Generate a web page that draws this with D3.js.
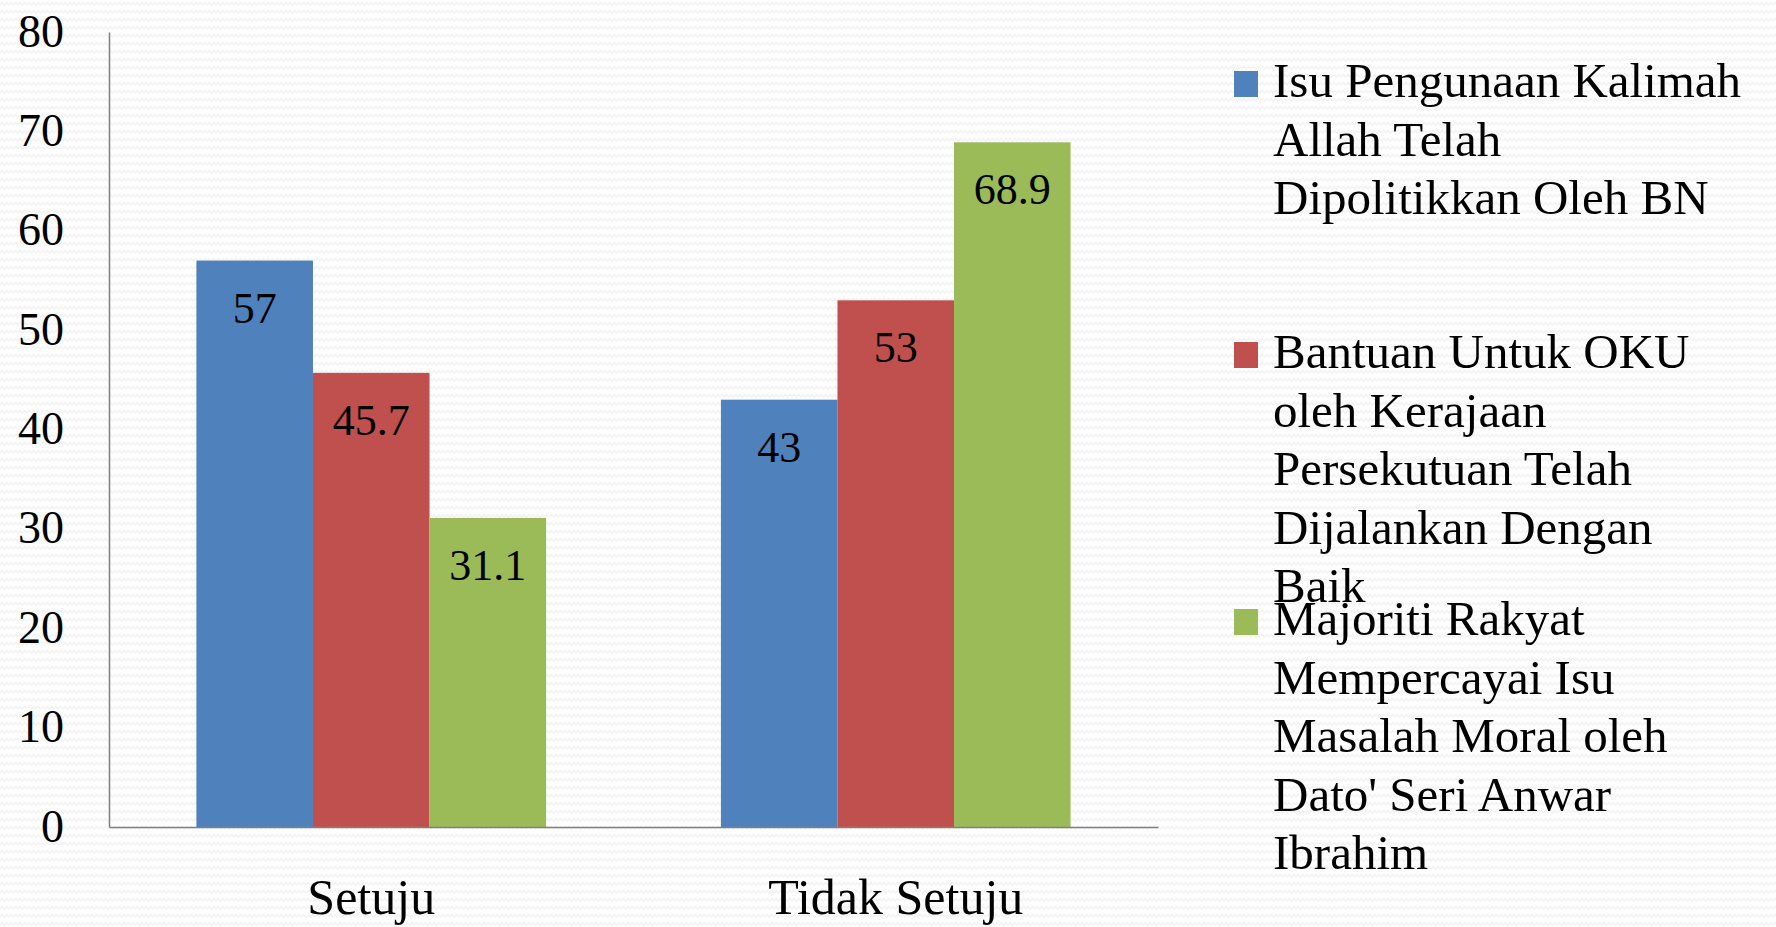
<!DOCTYPE html>
<html lang="ms">
<head>
  <meta charset="UTF-8">
  <title>Bar chart</title>
  <script src="https://d3js.org/d3.v7.min.js"></script>
  <style>
    html, body { margin: 0; padding: 0; background: #fdfdfd; }
    svg { display: block; font-family: "Liberation Serif", "DejaVu Serif", serif; }
  </style>
</head>
<body>
  <svg id="chart" width="1776" height="927"></svg>
  <script>
    // data
    const categories = ["Setuju", "Tidak Setuju"];
    const seriesNames = [
      ["Isu Pengunaan Kalimah", "Allah Telah", "Dipolitikkan Oleh BN"],
      ["Bantuan Untuk OKU", "oleh Kerajaan", "Persekutuan Telah", "Dijalankan Dengan", "Baik"],
      ["Majoriti Rakyat", "Mempercayai Isu", "Masalah Moral oleh", "Dato' Seri Anwar", "Ibrahim"]
    ];
    const isuKalimah = [57, 43];
    const bantuanOku = [45.7, 53];
    const majoritiRakyat = [31.1, 68.9];
    const yTicks = [0, 10, 20, 30, 40, 50, 60, 70, 80];
    const colors = ["#4f81bd", "#c0504d", "#9bbb59"];

    const series = [isuKalimah, bantuanOku, majoritiRakyat];

    const svg = d3.select("#chart");

    // faint zigzag background
    const defs = svg.append("defs");
    defs.append("pattern")
      .attr("id", "zig")
      .attr("width", 9)
      .attr("height", 8)
      .attr("patternUnits", "userSpaceOnUse")
      .call(p => {
        p.append("rect").attr("width", 9).attr("height", 8).attr("fill", "#fefefe");
        p.append("path")
          .attr("d", "M0,5 L2.25,2.5 L4.5,5 L6.75,2.5 L9,5")
          .attr("fill", "none")
          .attr("stroke", "#f2f2f2")
          .attr("stroke-width", 1.2);
      });
    svg.append("rect").attr("width", 1776).attr("height", 927).attr("fill", "url(#zig)");

    const plotLeft = 109, plotRight = 1158, plotTop = 32, plotBottom = 827;

    const x0 = d3.scaleBand()
      .domain(categories)
      .range([plotLeft, plotRight])
      .paddingInner(1 / 3)
      .paddingOuter(1 / 6);

    const x1 = d3.scaleBand()
      .domain(d3.range(series.length))
      .range([0, x0.bandwidth()]);

    const y = d3.scaleLinear().domain([0, 80]).range([plotBottom, plotTop]);

    // bars
    const groups = svg.append("g")
      .selectAll("g")
      .data(categories)
      .join("g")
      .attr("transform", d => `translate(${x0(d)},0)`);

    groups.selectAll("rect")
      .data((c, ci) => series.map((s, si) => ({ si, v: s[ci] })))
      .join("rect")
      .attr("x", d => x1(d.si))
      .attr("y", d => y(d.v))
      .attr("width", x1.bandwidth())
      .attr("height", d => y(0) - y(d.v))
      .attr("fill", d => colors[d.si]);

    groups.selectAll("text")
      .data((c, ci) => series.map((s, si) => ({ si, v: s[ci] })))
      .join("text")
      .attr("x", d => x1(d.si) + x1.bandwidth() / 2)
      .attr("y", d => y(d.v) + 62)
      .attr("text-anchor", "middle")
      .attr("font-size", 44)
      .attr("fill", "#000")
      .text(d => d.v);

    // axes
    const yAxis = svg.append("g")
      .attr("transform", `translate(${plotLeft},0)`)
      .call(d3.axisLeft(y).tickValues(yTicks).tickSize(0).tickPadding(0));
    yAxis.select(".domain").attr("stroke", "#808080").attr("stroke-width", 1.5);
    yAxis.selectAll(".tick text")
      .attr("x", -45)
      .attr("dy", 14)
      .attr("font-size", 46)
      .attr("font-family", "Liberation Serif, serif")
      .attr("fill", "#000");

    const xAxis = svg.append("g")
      .attr("transform", `translate(0,${plotBottom})`)
      .call(d3.axisBottom(x0).tickSize(0).tickPadding(0));
    xAxis.select(".domain").attr("stroke", "#808080").attr("stroke-width", 1.5);
    xAxis.selectAll(".tick text")
      .attr("y", 87)
      .attr("dy", 0)
      .attr("font-size", 50)
      .attr("font-family", "Liberation Serif, serif")
      .attr("fill", "#000");

    // legend
    const legendX = 1234;
    const legendTops = [97, 368, 635];
    const lineH = 58.5;

    const legend = svg.append("g")
      .selectAll("g")
      .data(seriesNames)
      .join("g")
      .attr("transform", (d, i) => `translate(${legendX},${legendTops[i]})`);

    legend.append("rect")
      .attr("x", 0)
      .attr("y", -26)
      .attr("width", 24)
      .attr("height", 26)
      .attr("fill", (d, i) => colors[i]);

    legend.append("text")
      .attr("font-size", 49)
      .attr("fill", "#000")
      .selectAll("tspan")
      .data(d => d)
      .join("tspan")
      .attr("x", 39)
      .attr("y", (d, i) => i * lineH)
      .text(d => d);
  </script>
</body>
</html>
